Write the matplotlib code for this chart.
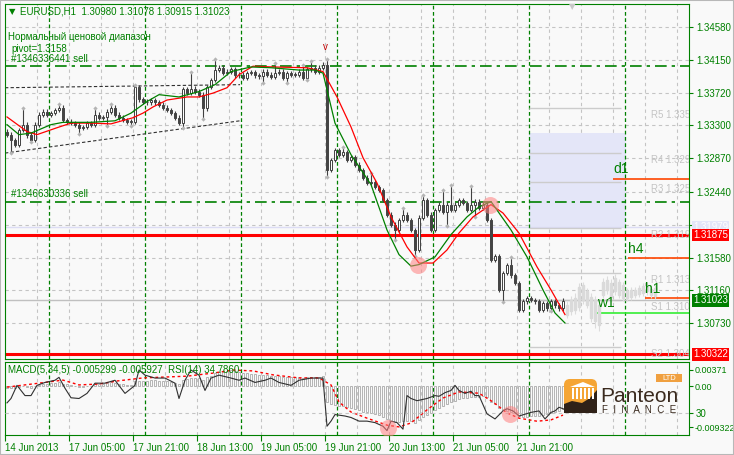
import matplotlib
matplotlib.use("Agg")
import matplotlib.pyplot as plt
import numpy as np
from matplotlib.patches import Rectangle, FancyBboxPatch, Polygon
from matplotlib.transforms import blended_transform_factory

plt.rcParams['font.family'] = ['Liberation Sans', 'DejaVu Sans']

# ---- data (H1 bars, bar index 0 = 14 Jun 2013) ----
first_open = 1.3322
close = [1.3318, 1.3311, 1.3305, 1.3324, 1.3331, 1.3318, 1.3311, 1.3331,
         1.3344, 1.3348, 1.3344, 1.3346, 1.3350, 1.3353, 1.3337, 1.3335,
         1.3333, 1.3331, 1.3327, 1.3328, 1.3333, 1.3331, 1.3344, 1.3340,
         1.3341, 1.3348, 1.3353, 1.3344, 1.3340, 1.3337, 1.3335, 1.3335,
         1.3380, 1.3364, 1.3361, 1.3360, 1.3363, 1.3360, 1.3357, 1.3353,
         1.3350, 1.3346, 1.3340, 1.3333, 1.3377, 1.3372, 1.3378, 1.3374,
         1.3370, 1.3352, 1.3380, 1.3389, 1.3402, 1.3405, 1.3398, 1.3400,
         1.3403, 1.3395, 1.3396, 1.3392, 1.3398, 1.3399, 1.3395, 1.3394,
         1.3400, 1.3396, 1.3393, 1.3398, 1.3400, 1.3392, 1.3398, 1.3396,
         1.3396, 1.3400, 1.3392, 1.3403, 1.3405, 1.3400, 1.3405, 1.3409,
         1.3272, 1.3285, 1.3298, 1.3292, 1.3295, 1.3285, 1.3289, 1.3279,
         1.3272, 1.3262, 1.3255, 1.3256, 1.3250, 1.3246, 1.3233, 1.3214,
         1.3201, 1.3194, 1.3207, 1.3214, 1.3207, 1.3194, 1.3168, 1.3210,
         1.3233, 1.3214, 1.3194, 1.3220, 1.3227, 1.3218, 1.3227, 1.3220,
         1.3227, 1.3233, 1.3229, 1.3220, 1.3227, 1.3231, 1.3223, 1.3227,
         1.3207, 1.3155, 1.3160, 1.3116, 1.3138, 1.3148, 1.3135, 1.3125,
         1.3090, 1.3101, 1.3105, 1.3103, 1.3101, 1.3090, 1.3099, 1.3092,
         1.3101, 1.3096, 1.3092, 1.3102]
# wick lengths above / below the body, in pips
wick_up = [3, 3, 3, 3, 21, 3, 3, 3, 3, 3,
           3, 3, 3, 5, 3, 3, 3, 3, 3, 3,
           3, 3, 8, 3, 3, 3, 5, 3, 3, 3,
           3, 3, 3, 3, 3, 3, 3, 3, 3, 3,
           3, 3, 3, 3, 3, 3, 22, 3, 3, 3,
           3, 3, 14, 3, 3, 3, 3, 3, 3, 3,
           3, 3, 3, 3, 3, 3, 3, 13, 3, 3,
           3, 3, 3, 3, 9, 3, 9, 3, 3, 3,
           7, 3, 3, 3, 7, 3, 3, 3, 3, 3,
           3, 12, 3, 3, 3, 3, 3, 3, 3, 9,
           3, 3, 3, 3, 7, 3, 3, 3, 3, 19,
           3, 25, 3, 3, 3, 3, 24, 3, 3, 3,
           3, 3, 3, 3, 3, 3, 11, 3, 3, 3,
           3, 3, 3, 3, 3, 3, 3, 3, 3, 3]
wick_dn = [3, 17, 3, 3, 3, 4, 3, 3, 3, 3,
           3, 3, 3, 3, 3, 3, 3, 3, 8, 3,
           3, 3, 3, 3, 3, 12, 3, 3, 3, 3,
           3, 6, 3, 3, 3, 3, 3, 3, 3, 3,
           3, 3, 3, 3, 7, 3, 3, 3, 3, 14,
           3, 3, 3, 3, 3, 3, 3, 3, 3, 3,
           3, 3, 3, 3, 9, 3, 3, 3, 3, 3,
           7, 3, 3, 3, 3, 3, 3, 3, 3, 3,
           9, 3, 3, 3, 3, 3, 3, 3, 3, 3,
           3, 3, 3, 3, 3, 3, 3, 13, 3, 3,
           3, 3, 8, 3, 3, 3, 3, 3, 3, 3,
           19, 3, 3, 3, 3, 3, 3, 16, 3, 3,
           3, 3, 3, 3, 16, 3, 3, 3, 3, 3,
           3, 3, 3, 3, 3, 3, 4, 3, 3, 3]
frac_up = [4, 13, 22, 26, 32, 46, 52, 67, 74, 76, 80, 84, 91, 99, 104, 109, 111, 116, 126]
frac_dn = [1, 6, 18, 25, 31, 44, 49, 64, 70, 75, 80, 97, 102, 110, 117, 124, 136]

# projected (ghost) bars
ghost_top = [1.3097, 1.3103, 1.3106, 1.3120, 1.3122, 1.3114, 1.3107, 1.3103, 1.3097, 1.3126, 1.3129, 1.3125,
             1.3132, 1.3126, 1.3122, 1.3114, 1.3116, 1.3116, 1.3119, 1.3121, 1.3122, 1.3117, 1.3119]
ghost_bot = [1.3084, 1.3088, 1.3090, 1.3094, 1.3103, 1.3097, 1.3080, 1.3075, 1.3071, 1.3110, 1.3116, 1.3107,
             1.3114, 1.3110, 1.3106, 1.3106, 1.3107, 1.3110, 1.3111, 1.3112, 1.3114, 1.3110, 1.3108]
ghost_hi = [1.3101, 1.3108, 1.3112, 1.3125, 1.3126, 1.3118, 1.3112, 1.3108, 1.3101, 1.3131, 1.3134, 1.3130,
            1.3137, 1.3130, 1.3126, 1.3118, 1.3120, 1.3120, 1.3123, 1.3125, 1.3126, 1.3121, 1.3124]
ghost_lo = [1.3079, 1.3083, 1.3085, 1.3089, 1.3098, 1.3092, 1.3074, 1.3066, 1.3062, 1.3105, 1.3111, 1.3102,
            1.3109, 1.3105, 1.3101, 1.3102, 1.3103, 1.3106, 1.3107, 1.3108, 1.3110, 1.3106, 1.3104]

# moving averages
green_i = [0, 3, 6, 11, 14, 21, 27, 31, 35, 38, 43, 48, 52, 56, 61, 66, 73, 77, 79, 82, 86, 91, 95, 98,
           101, 103, 107, 111, 115, 118, 121, 126, 130, 134, 137, 139.5]
green_p = [1.3331, 1.3318, 1.3320, 1.3331, 1.3334, 1.3334, 1.3336, 1.3346, 1.3361, 1.3370, 1.3367, 1.3374,
           1.3383, 1.3400, 1.3406, 1.3405, 1.3402, 1.3402, 1.3398, 1.3333, 1.3292, 1.3253, 1.3194, 1.3162,
           1.3147, 1.3149, 1.3159, 1.3188, 1.3211, 1.3224, 1.3231, 1.3194, 1.3159, 1.3116, 1.3086, 1.3073]
red_i = [0, 5, 7.5, 12.5, 16, 21, 26, 31.5, 34, 36.5, 40, 45, 48, 51.5, 55, 58, 61.5, 66.5, 75, 79,
         82.5, 86, 89, 92.5, 96, 100, 103, 106.5, 110, 113, 116.5, 121, 124, 128, 132.5, 136, 139.5]
red_p = [1.3341, 1.3322, 1.3318, 1.3327, 1.3333, 1.3333, 1.3332, 1.3340, 1.3346, 1.3354, 1.3363, 1.3367,
         1.3367, 1.3372, 1.3379, 1.3396, 1.3407, 1.3406, 1.3405, 1.3400, 1.3367, 1.3328, 1.3288, 1.3255,
         1.3211, 1.3172, 1.3151, 1.3151, 1.3168, 1.3190, 1.3211, 1.3227, 1.3216, 1.3190, 1.3146, 1.3116, 1.3084]
cross_i = [102.75, 120.75]
cross_p = [1.3149, 1.3227]

# levels
sell_levels = [1.3407, 1.3231]
sell_names = ['#1346336441 sell', '#1346630336 sell']
red_levels = [1.31875, 1.30322]
bid = 1.31023
lavender_level = 1.31979
pivot_names = ['R5', 'R4', 'R3', 'R2', 'R1', 'S1', 'S2']
pivot_vals = [1.3353, 1.3294, 1.3257, 1.3197, 1.3138, 1.3103, 1.3042]
tf_names = ['d1', 'h4', 'h1', 'w1']
tf_vals = [1.3260, 1.3157, 1.3105, 1.3086]
tf_start = [151.5, 155.25, 159.5, 147.5]
tf_colors = ['#ff4500', '#ff4500', '#ff4500', '#33ee33']
chan_up = ([-0.5, 58.25], [1.3379, 1.3383])
chan_dn = ([-0.5, 58.25], [1.3294, 1.3336])
price_ticks = [1.34580, 1.34150, 1.33720, 1.33300, 1.32870, 1.32440, 1.32010, 1.31580, 1.31160, 1.30730]

# indicators (MACD histogram in 1e-4 units)
macd_hist = [-3, -4, -5, -2, 0, -2, -3, 1, 3, 5, 6, 7, 8, 9, 6, 4,
             2, 0, -1, -1, 0, 1, 4, 4, 5, 7, 9, 7, 5, 4, 3, 3,
             12, 12, 13, 13, 14, 14, 13, 12, 11, 9, 7, 5, 14, 16, 18, 19,
             18, 14, 20, 24, 30, 33, 33, 34, 37, 34, 33, 31, 30, 29, 27, 26,
             26, 25, 24, 24, 24, 22, 22, 21, 20, 21, 19, 21, 22, 21, 22, 24,
             -35, -40, -42, -45, -46, -48, -50, -52, -55, -58, -60, -62, -64, -66, -70, -75,
             -80, -82, -82, -80, -80, -80, -84, -78, -70, -66, -62, -55, -50, -45, -40, -36,
             -33, -30, -28, -27, -25, -24, -24, -23, -25, -35, -40, -50, -55, -57, -60, -62,
             -68, -70, -70, -68, -68, -68, -66, -64, -62, -60, -56, -53]
sig_i = [0, 8, 14, 18, 23, 27.5, 34, 45, 51.5, 56.5, 61.5, 66.5, 73, 78, 81, 83, 86, 90, 95, 98,
         101, 105, 109, 113, 118, 121.5, 125, 128, 132.5, 136, 139]
sig_v = [-0.0002, 0.0007, 0.0014, 0.0003, 0.0005, 0.0012, 0.0019, 0.0023, 0.0030, 0.0037, 0.0035, 0.0026,
         0.0019, 0.0019, 0.0003, -0.0036, -0.0059, -0.0073, -0.0089, -0.0093, -0.0084, -0.0054, -0.0027,
         -0.0013, -0.0016, -0.0036, -0.0061, -0.0073, -0.0080, -0.0077, -0.0066]
rsi_i = [0, 1, 2.5, 4.5, 6, 7.5, 9.5, 12, 13, 14.5, 16, 18, 20, 22, 24.5, 27, 29.5, 32, 33, 34.5, 37,
         39.5, 42, 43, 44.5, 46, 48, 49.5, 51, 53, 56, 58, 59.5, 62, 64.5, 66, 68, 71, 73, 76, 78, 79,
         80, 81, 82, 84.5, 86, 88, 90, 92, 94, 95, 96, 97.5, 99, 100, 101, 102.5, 105, 107, 108, 109.5,
         111, 112, 113, 114.5, 116, 117, 118, 120, 122, 124, 125, 126.5, 128, 131, 133, 134.5, 136,
         137, 138, 139.5]
rsi_v = [44, 50, 68, 54, 54, 68, 72, 75, 79, 64, 51, 50, 57, 71, 71, 75, 57, 68, 89, 82, 78,
         78, 71, 50, 75, 89, 82, 61, 78, 82, 78, 75, 78, 72, 75, 78, 72, 68, 75, 78, 78, 78,
         12, 19, 28, 26, 24, 19, 19, 17, 12, 6, 19, 17, 8, 54, 50, 47, 50, 54, 53, 58,
         61, 68, 61, 57, 60, 54, 54, 29, 22, 33, 36, 33, 26, 31, 33, 22, 31,
         33, 38, 35]
rsi_cross_i = [95.25, 125.75]
rsi_cross_v = [9, 29]

date_pos = [-0.5, 15.5, 31.5, 47.5, 63.5, 79.5, 95.5, 111.5, 127.5]
date_lab = ['14 Jun 2013', '17 Jun 05:00', '17 Jun 21:00', '18 Jun 13:00', '19 Jun 05:00',
            '19 Jun 21:00', '20 Jun 13:00', '21 Jun 05:00', '21 Jun 21:00']
day_lines = [10.5, 34.5, 58.5, 82.5, 106.5, 130.5, 154.5]

# ---- figure ----
W, H = 734, 455
GREEN = '#008000'
GRID = '#c4c4c4'
BG = '#f9f9f9'
def fx(x): return x / W
def fy(y): return 1 - y / H

fig = plt.figure(figsize=(W / 100, H / 100), dpi=100)
fig.patch.set_facecolor(BG)
fig.patches.append(Rectangle((0, 0), 1, 1, transform=fig.transFigure, fill=False,
                             ec='#b8b8b8', lw=1.5))

ax = fig.add_axes([fx(5), fy(359), (689 - 5) / W, (359 - 4) / H])
ax.set_facecolor(BG)
ax.set_xlim(-0.5, 170.5)
ax.set_ylim(1.30262, 1.34879)
for s in ax.spines.values():
    s.set_color(GREEN)

# grid
for p in price_ticks:
    ax.axhline(p, color=GRID, lw=0.8, dashes=(3, 3), zorder=0)
for g in np.arange(7.5, 170, 8):
    ax.axvline(g, color=GRID, lw=0.8, dashes=(3, 3), zorder=0)
for d in day_lines:
    ax.axvline(d, color=GREEN, lw=0.9, dashes=(3, 2), zorder=1)

# lavender box and pivot levels
ax.add_patch(Rectangle((130.5, 1.3197), 24.25, 1.3320 - 1.3197, fc='#e4e6f8', ec='none', zorder=0.5))
ax.axhline(lavender_level, color='#dcdcf4', lw=1, zorder=0.6)
for n, v in zip(pivot_names, pivot_vals):
    ax.hlines(v, 130.5, 153.5, color='#cccccc', lw=1, zorder=1)
    ax.annotate(f'{n} {v:.4f}', (161, v), xytext=(0, -1.5), textcoords='offset points',
                va='top', ha='left', fontsize=7, color='#c4c4c4', annotation_clip=False,
                clip_on=True)

# horizontal levels
ax.axhline(bid, color='#c0c0c0', lw=1, zorder=1)
for v in red_levels:
    ax.axhline(v, color='#ff0000', lw=2.2, zorder=2)
for v, n in zip(sell_levels, sell_names):
    ax.axhline(v, color=GREEN, lw=1.2, dashes=(7, 3, 2, 3), zorder=2)
    ax.annotate(n, (1, v), xytext=(0, 1.5), textcoords='offset points', fontsize=7,
                color=GREEN, va='bottom', ha='left')
for n, v, s0, c in zip(tf_names, tf_vals, tf_start, tf_colors):
    ax.hlines(v, s0, 170.5, color=c, lw=1.2, zorder=2)
    ax.annotate(n, (s0, v), xytext=(0, 2), textcoords='offset points', fontsize=10,
                color=GREEN, va='bottom', ha='left')

# channel
ax.plot(*chan_up, color='#303030', lw=0.8, dashes=(3, 2), zorder=2)
ax.plot(*chan_dn, color='#303030', lw=0.8, dashes=(3, 2), zorder=2)

# candles
close = np.array(close)
opn = np.concatenate([[first_open], close[:-1]])
top = np.maximum(opn, close)
bot = np.minimum(opn, close)
high = top + np.array(wick_up) * 1e-4
low = bot - np.array(wick_dn) * 1e-4
idx = np.arange(len(close))
ax.vlines(idx, low, high, color='#404040', lw=0.8, zorder=3)
bull = close >= opn
ax.bar(idx[bull], np.maximum(top - bot, 0.00006)[bull], bottom=bot[bull], width=0.72,
       color='white', edgecolor='#404040', lw=0.7, zorder=4)
ax.bar(idx[~bull], np.maximum(top - bot, 0.00006)[~bull], bottom=bot[~bull], width=0.72,
       color='#444444', edgecolor='#444444', lw=0.7, zorder=4)
ax.plot(frac_up, high[frac_up], 'D', color='#b4b4b4', ms=2.2, mew=0, zorder=4)
ax.plot(frac_dn, low[frac_dn], 'D', color='#b4b4b4', ms=2.2, mew=0, zorder=4)

gidx = np.arange(len(close), len(close) + len(ghost_top))
ax.vlines(gidx, ghost_lo, ghost_hi, color='#dcdcdc', lw=0.8, zorder=2)
ax.bar(gidx, np.array(ghost_top) - np.array(ghost_bot), bottom=ghost_bot, width=0.72,
       color='#dadada', edgecolor='#dadada', zorder=2)

# moving averages
ax.plot(red_i, red_p, color='#ff0000', lw=0.9, zorder=5)
ax.plot(green_i, green_p, color='#008000', lw=0.9, zorder=5)
ax.scatter(cross_i, cross_p, s=150, color='#ff8080', alpha=0.55, lw=0, zorder=6)
ax.text(79.5, 1.3432, 'v', color='#c00000', fontsize=7, ha='center', va='center')

# right axis
ax.set_xticks([])
ax.yaxis.tick_right()
ax.set_yticks(price_ticks)
ax.set_yticklabels(['' if abs(p - 1.3201) < 1e-6 else f'{p:.5f}' for p in price_ticks])
ax.tick_params(axis='y', colors=GREEN, labelsize=7, length=3, pad=2, labelcolor=GREEN)

tr = blended_transform_factory(fig.transFigure, ax.transData)
for v, fc, tc in [(lavender_level, '#e4e6f8', 'white'), (red_levels[0], '#ff0000', 'white'),
                  (bid, '#008000', 'white'), (red_levels[1], '#ff0000', 'white')]:
    fig.text(fx(693), v, f'{v:.5f}', transform=tr, fontsize=7, color=tc, va='center', ha='left',
             bbox=dict(boxstyle='square,pad=0.12', fc=fc, ec='none'))

# texts
fig.text(fx(9), fy(12), '\u25bc', fontsize=6, color=GREEN, va='center', family=['DejaVu Sans'])
fig.text(fx(20), fy(12), 'EURUSD,H1  1.30980 1.31078 1.30915 1.31023', fontsize=7, color=GREEN, va='center')
fig.text(fx(8), fy(37), 'Нормальный ценовой диапазон', fontsize=7, color=GREEN, va='center')
fig.text(fx(11), fy(49), 'pivot=1.3158', fontsize=7, color=GREEN, va='center')
fig.text(fx(572), fy(7), '\u25bc', fontsize=6, color='#c8c8c8', va='center', ha='center',
         family=['DejaVu Sans'])

# ---- sub window ----
sub = fig.add_axes([fx(5), fy(435), (689 - 5) / W, (435 - 362) / H])
sub.set_facecolor(BG)
sub.set_xlim(-0.5, 170.5)
sub.set_ylim(-0.011151, 0.005539)
for s in sub.spines.values():
    s.set_color(GREEN)
for g in np.arange(7.5, 170, 8):
    sub.axvline(g, color=GRID, lw=0.8, dashes=(3, 3), zorder=0)
for d in day_lines:
    sub.axvline(d, color=GREEN, lw=0.9, dashes=(3, 2), zorder=1)
sub.bar(idx, np.array(macd_hist) * 1e-4, width=0.5, fill=False, edgecolor='#a8a8a8', lw=0.6, zorder=2)
sub.plot(sig_i, sig_v, color='#ff0000', lw=1, dashes=(2, 2), zorder=3)
sub.set_xticks(date_pos)
sub.set_xticklabels(date_lab, ha='left')
sub.tick_params(axis='x', colors=GREEN, labelsize=7, length=4, pad=2)

rs = sub.twinx()
rs.set_xlim(-0.5, 170.5)
rs.set_ylim(0, 100)
for s in rs.spines.values():
    s.set_visible(False)
rs.axhline(30, color=GRID, lw=0.8, dashes=(3, 3), zorder=0)
rs.plot(rsi_i, rsi_v, color='#303030', lw=0.8, zorder=3)
rs.scatter(rsi_cross_i, rsi_cross_v, s=150, color='#ff8080', alpha=0.55, lw=0, zorder=4)
rs.set_yticks([30])
rs.set_yticklabels(['30'])
rs.tick_params(axis='y', colors=GREEN, labelsize=7, length=3, pad=2)

# twinx moves the host ticks to the left, put them back on the right
sub.yaxis.tick_right()
sub.set_yticks([0.00371, 0.0, -0.009322])
sub.set_yticklabels(['0.00371', '0.00', '-0.009322'])
sub.tick_params(axis='y', colors=GREEN, labelsize=6.5, length=3, pad=1)

fig.text(fx(8), fy(370), 'MACD(5,34,5) -0.005299 -0.005927  RSI(14) 34.7860', fontsize=7,
         color=GREEN, va='center')

# ---- logo ----
lg = fig.add_axes([fx(560), fy(428), 130 / W, 58 / H])
lg.set_xlim(560, 690)
lg.set_ylim(428, 370)
lg.axis('off')
lg.add_patch(FancyBboxPatch((564, 379), 33, 34, boxstyle='round,pad=0,rounding_size=6',
                            fc='#f5a534', ec='none'))
lg.add_patch(Polygon([(564, 413), (564, 404), (572, 401), (582, 403), (590, 398), (597, 390),
                      (597, 413)], closed=True, fc='#2f2118', ec='none'))
lg.add_patch(Polygon([(570, 387), (583, 382), (595, 387)], closed=True, fc='white', ec='none'))
for cx in [572, 576, 580, 584, 588, 592]:
    lg.add_patch(Rectangle((cx, 388), 1.6, 11, fc='white', ec='none'))
lg.text(600, 402, 'Panteon', fontsize=15, color='#3a2a1e', va='baseline', ha='left')
lg.text(602, 413, 'F  I  N  A  N  C  E', fontsize=7, color='#3a2a1e', va='baseline', ha='left')
lg.add_patch(Rectangle((656, 374), 26, 8, fc='#f0a040', ec='none'))
lg.text(669, 378.2, 'LTD', fontsize=5.5, color='white', ha='center', va='center')

fig.savefig('out.png', dpi=100, facecolor=fig.get_facecolor())
